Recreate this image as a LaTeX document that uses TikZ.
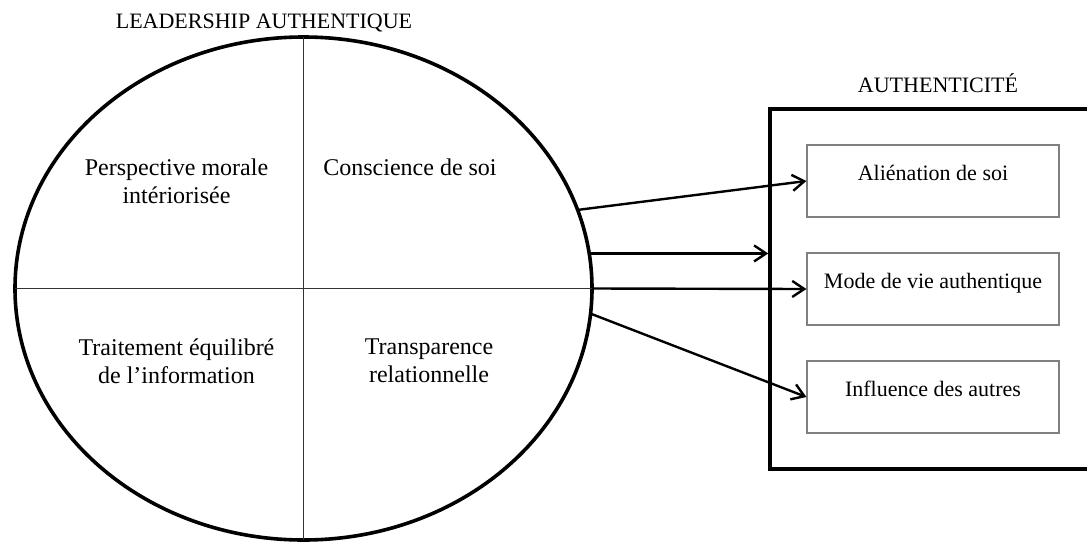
\documentclass[tikz,border=0pt]{standalone}
\usepackage{fontspec}
\setmainfont{Liberation Serif}
\usetikzlibrary{arrows.meta, positioning, shapes.geometric}
\tikzset{
    >={Straight Barb[length=6pt,width=8pt]}, % open arrow heads
    quadrant/.style={align=center, font=\fontsize{12}{14}\selectfont}, % texts inside the ellipse
    dimbox/.style={draw=gray, line width=0.6pt, minimum width=126pt, minimum height=36pt,
        text height=8pt, text depth=9pt, font=\fontsize{11}{13}\selectfont}, % the three small boxes
    divider/.style={draw=black!80, line width=0.75pt},
    heading/.style={anchor=base, font=\fontsize{11}{13}\selectfont},
}
\tikzstyle{arrow} = [line width=1.2pt, ->]

\begin{document}
\begin{tikzpicture}[x=0.5pt, y=-0.5pt, node distance=54pt, on grid]
    \clip (0,0) rectangle (1087,541);

    % left part
    \node[ellipse, draw, line width=1.8pt, minimum width=288.5pt, minimum height=251.5pt,
        inner sep=0pt, outer sep=0pt] (lead) at (303.5,288.5) {};
    \draw[divider] (lead.north) -- (lead.south);
    \draw[divider] (lead.west) -- (lead.east);
    \node[heading] (leadtitle) at (264,28) {LEADERSHIP AUTHENTIQUE};

    \node[quadrant] (moral) at (176.5,181) {Perspective morale\\intériorisée};
    \node[quadrant, anchor=base] (consc) at (410,175) {Conscience de soi};
    \node[quadrant] (trait) at (176.5,361) {Traitement équilibré\\de l’information};
    \node[quadrant] (transp) at (429,361) {Transparence\\relationnelle};

    % right part
    \node[draw, line width=1.75pt, minimum width=170pt, minimum height=180pt] (auth) at (940,289) {};
    \node[heading] (authtitle) at (938,92) {AUTHENTICITÉ};

    \node[dimbox] (ali) at (933,181) {Aliénation de soi};
    \node[dimbox] (mode) [below=of ali] {Mode de vie authentique};
    \node[dimbox] (infl) [below=of mode] {Influence des autres};

    \path[arrow]
        (lead.16) edge (ali.west)
        (lead.7) edge (lead.7 -| auth.west)
        (lead.east) edge (mode.west)
        (lead.-5.7) edge (infl.west);
\end{tikzpicture}
\end{document}
